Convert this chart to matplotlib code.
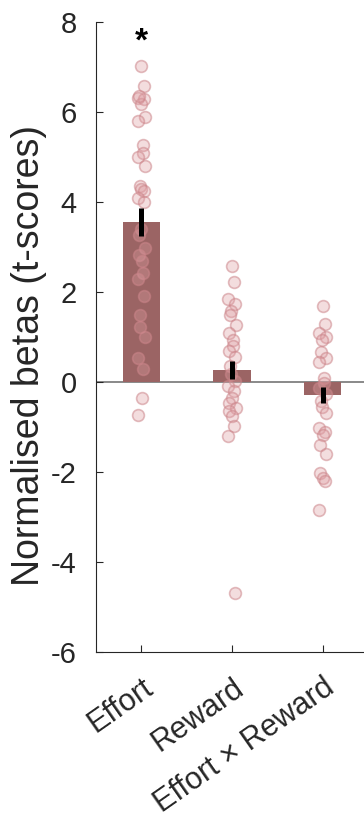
import numpy as np
import matplotlib
import matplotlib.pyplot as plt
matplotlib.use('Agg')

plt.rcParams['font.family'] = ['Liberation Sans', 'DejaVu Sans']
plt.rcParams['axes.unicode_minus'] = False

conditions = ['Effort', 'Reward', 'Effort \u00d7 Reward']
bar_means = [3.55, 0.27, -0.29]
bar_sems = [0.31, 0.20, 0.17]

effort_betas = [7.02, 6.57, 6.32, 6.28, 6.18, 6.35, 5.89, 5.79, 5.26, 5.08,
                5.01, 4.80, 4.35, 4.30, 4.24, 4.10, 3.99, 3.41, 3.27, 2.97,
                2.82, 2.68, 2.42, 2.29, 1.91, 1.49, 1.22, 0.99, 0.53, 0.28,
                -0.36, -0.74]
reward_betas = [2.57, 2.23, 1.84, 1.73, 1.58, 1.49, 1.27, 1.08, 0.93, 0.80,
                0.69, 0.56, 0.36, 0.17, 0.02, -0.09, -0.20, -0.35, -0.46, -0.57,
                -0.65, -0.76, -0.98, -1.20, -4.69]
interaction_betas = [1.69, 1.30, 1.10, 0.99, 0.93, 0.67, 0.54, 0.45, 0.08, -0.02,
                     -0.13, -0.27, -0.42, -0.56, -0.68, -1.02, -1.11, -1.18, -1.39, -1.61,
                     -2.02, -2.13, -2.20, -2.84]
subject_betas = [effort_betas, reward_betas, interaction_betas]

yticks = [-6, -4, -2, 0, 2, 4, 6, 8]

bar_color = '#9b6464'
dot_face = (0.87, 0.62, 0.64, 0.35)
dot_edge = (0.80, 0.52, 0.54, 0.55)
ink = '#262626'

fig = plt.figure(figsize=(3.64, 8.22), dpi=100)
ax = fig.add_axes([96 / 364, 170 / 822, 272 / 364, 630 / 822])

x = np.arange(1, len(conditions) + 1)
ax.axhline(0, color='#808080', lw=1.3, zorder=1)
ax.bar(x, bar_means, width=0.41, color=bar_color, zorder=2)

for xi, vals in zip(x, subject_betas):
    n = len(vals)
    jitter = 0.04 * np.sin(np.arange(n) * 2.4)
    ax.scatter(xi + jitter, vals, s=72, facecolor=dot_face, edgecolor=dot_edge,
               linewidth=1.2, zorder=3)

ax.errorbar(x, bar_means, yerr=bar_sems, fmt='none', ecolor='black',
            elinewidth=3.6, capsize=0, zorder=4)

ax.text(x[0], 7.55, '*', ha='center', va='center', fontsize=24,
        fontweight='bold', color='black')

ax.set_xlim(0.5, 3.5)
ax.set_ylim(-6, 8)
ax.set_yticks(yticks)
ax.set_xticks(x)
ax.set_xticklabels(conditions, rotation=35, ha='right', rotation_mode='anchor',
                   fontsize=22)
ax.tick_params(axis='y', labelsize=21, pad=14)
ax.tick_params(axis='x', pad=15)
ax.tick_params(direction='in', length=5, width=0.8, color=ink, labelcolor=ink)
ax.set_ylabel('Normalised betas (t-scores)', fontsize=27, color=ink)
ax.yaxis.set_label_coords(-0.18, 0.47)

for side in ['top', 'right']:
    ax.spines[side].set_visible(False)
for side in ['left', 'bottom']:
    ax.spines[side].set_color(ink)
    ax.spines[side].set_linewidth(0.8)

fig.savefig('out.png', dpi=100)
plt.close(fig)
